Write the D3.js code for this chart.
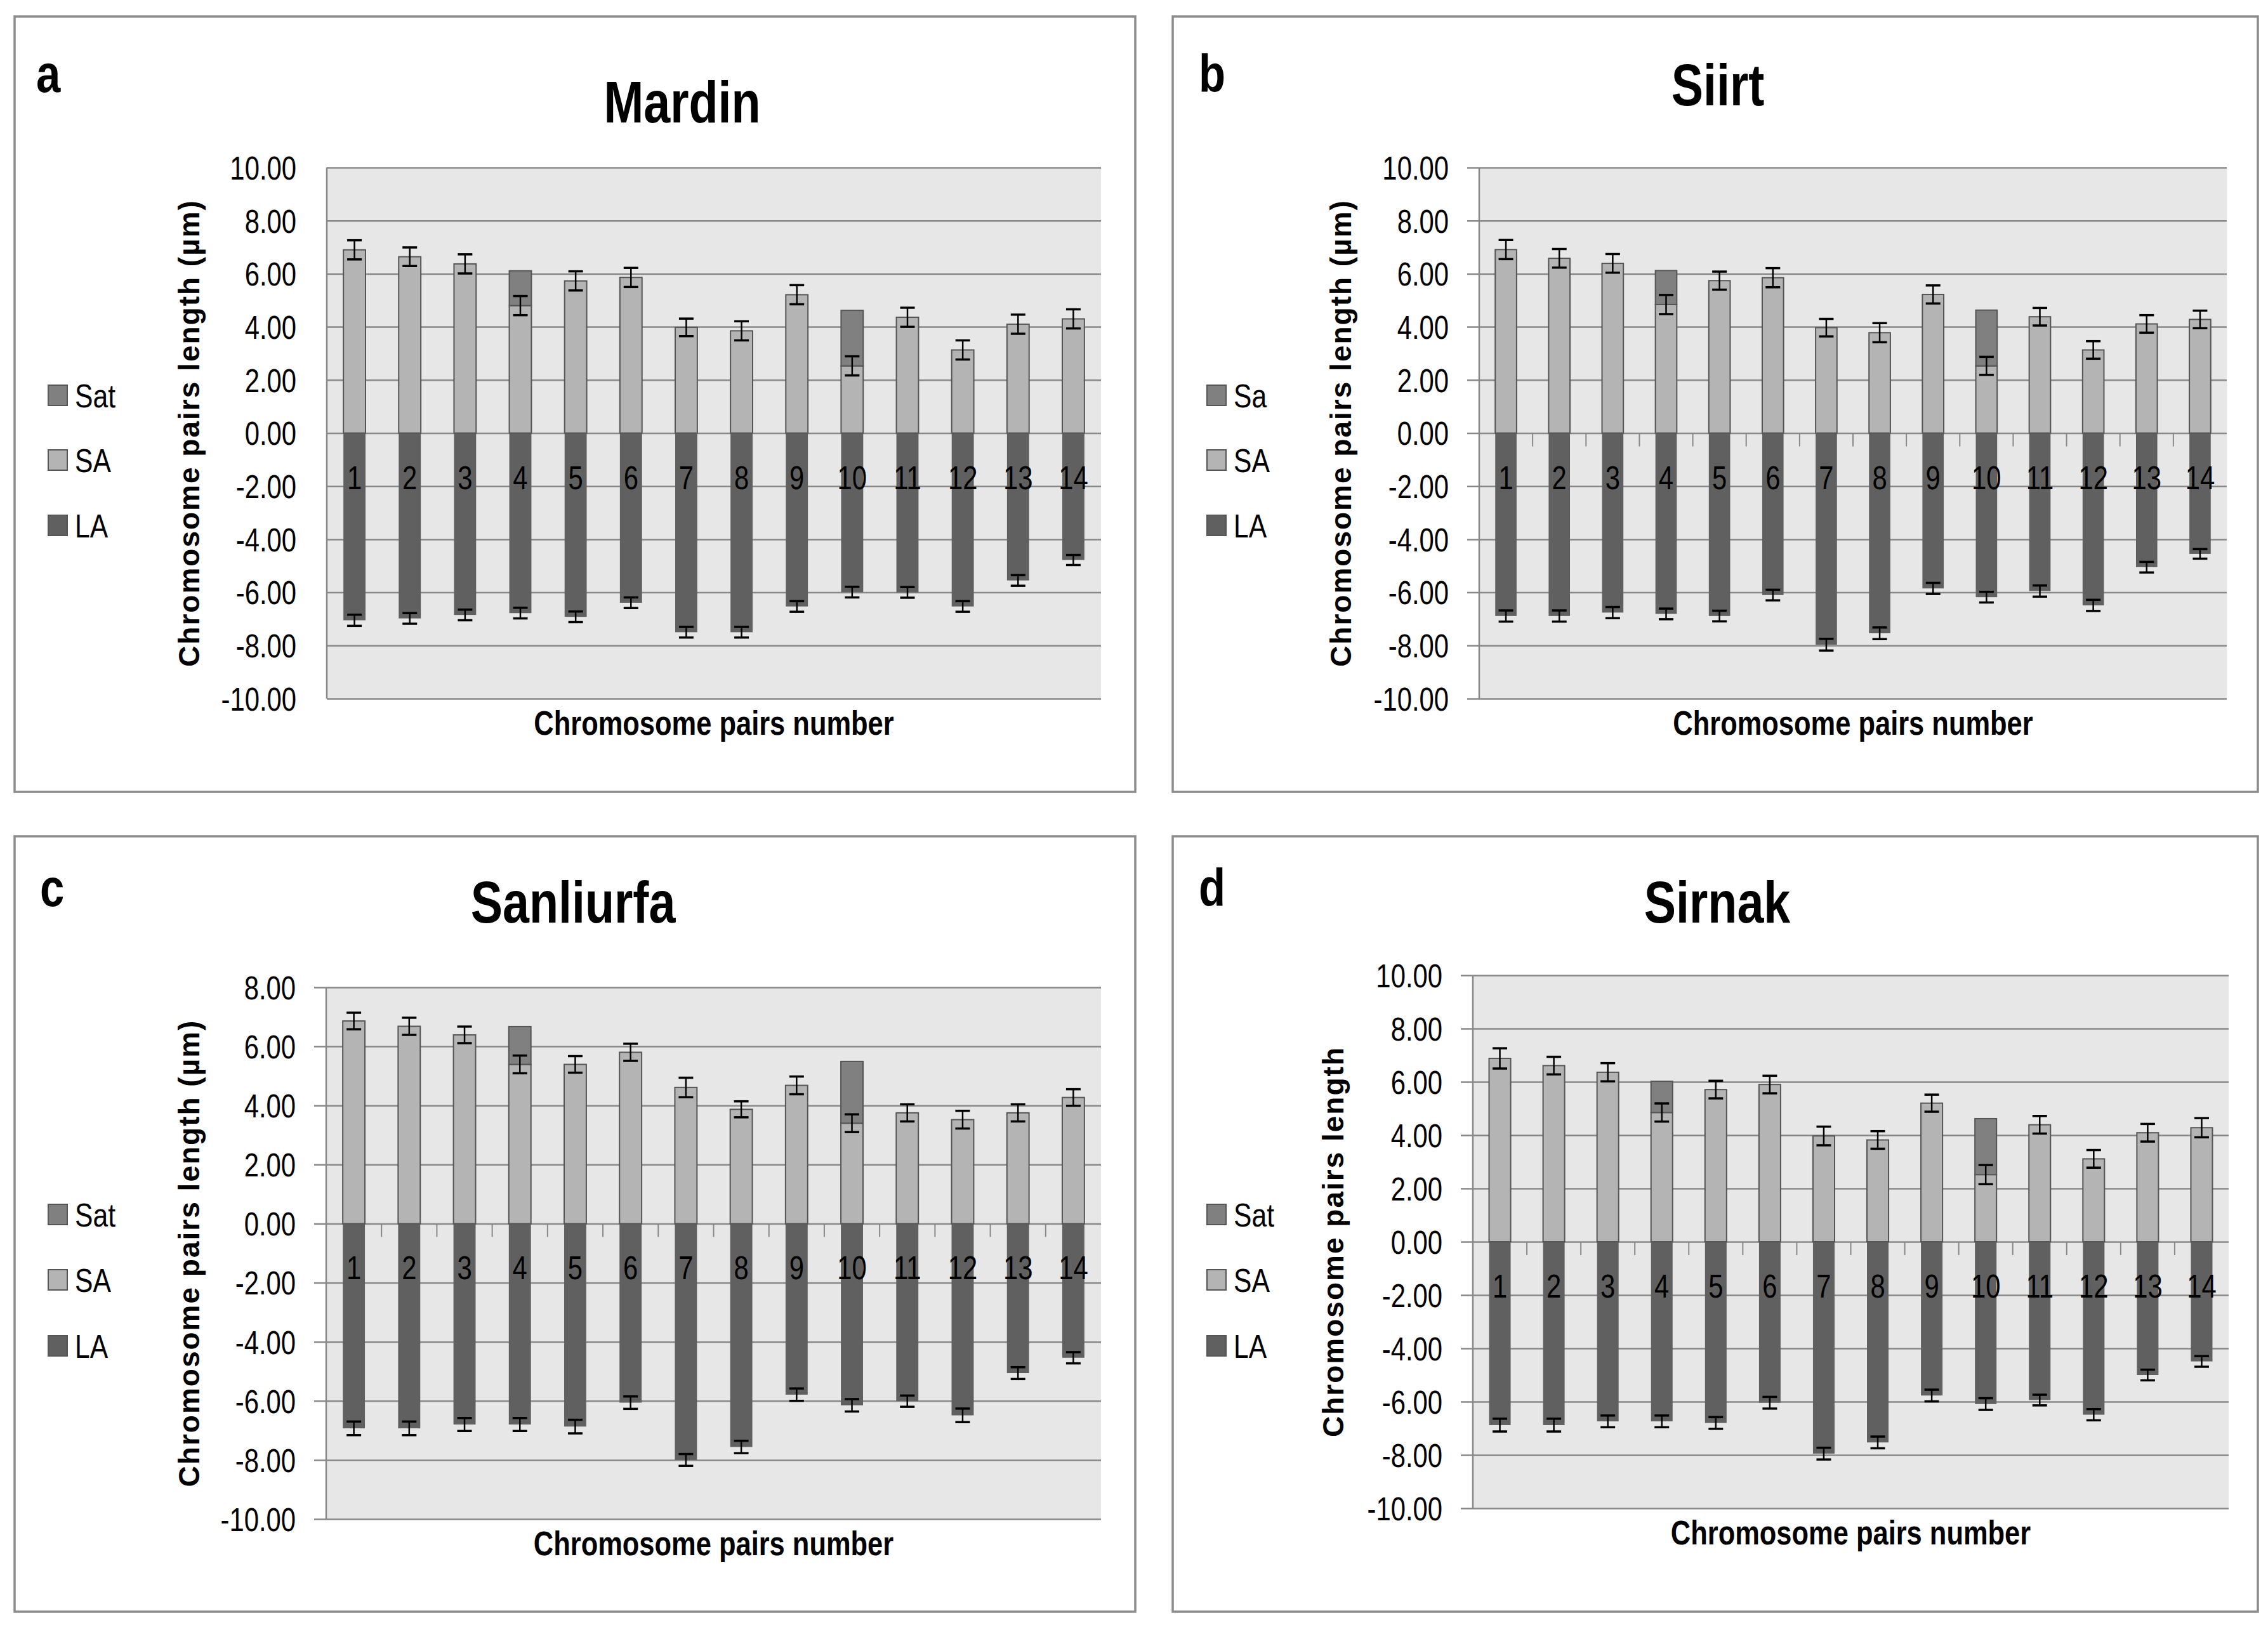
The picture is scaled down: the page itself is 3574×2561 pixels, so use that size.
<!DOCTYPE html>
<html>
<head>
<meta charset="utf-8">
<script src="https://cdn.jsdelivr.net/npm/d3@7"></script>
<style>
body { margin: 0; background: #fff; }
text { font-family: "Liberation Sans", Arial, sans-serif; }
</style>
</head>
<body>
<svg id="fig" width="3574" height="2561"></svg>
<script>
// chromosome pair numbers
var pairs = ["1","2","3","4","5","6","7","8","9","10","11","12","13","14"];

var panelLetters = ["a","b","c","d"];
var panelTitles  = ["Mardin","Siirt","Sanliurfa","Sirnak"];
var legendNames  = [["Sat","SA","LA"],["Sa","SA","LA"],["Sat","SA","LA"],["Sat","SA","LA"]];
var yTitles      = ["Chromosome pairs length (\u00b5m)","Chromosome pairs length (\u00b5m)","Chromosome pairs length (\u00b5m)","Chromosome pairs length"];
var xTitle       = "Chromosome pairs number";

var ticksFull      = [-10,-8,-6,-4,-2,0,2,4,6,8,10];
var ticksSanliurfa = [-10,-8,-6,-4,-2,0,2,4,6,8];

// a - Mardin
var mardinSA    = [6.90,6.64,6.37,4.80,5.73,5.86,3.98,3.85,5.21,2.53,4.36,3.13,4.10,4.30];
var mardinSat   = [0,0,0,1.31,0,0,0,0,0,2.09,0,0,0,0];
var mardinLA    = [-7.05,-6.98,-6.85,-6.78,-6.92,-6.39,-7.50,-7.50,-6.53,-5.99,-6.00,-6.53,-5.55,-4.78];
var mardinSAErr = [0.36,0.35,0.36,0.36,0.36,0.36,0.33,0.36,0.36,0.36,0.36,0.36,0.36,0.36];
var mardinLAErr = [0.21,0.20,0.20,0.20,0.20,0.20,0.20,0.20,0.20,0.20,0.20,0.20,0.20,0.19];

// b - Siirt
var siirtSA    = [6.91,6.58,6.39,4.84,5.74,5.85,3.97,3.78,5.22,2.53,4.38,3.13,4.11,4.28];
var siirtSat   = [0,0,0,1.28,0,0,0,0,0,2.10,0,0,0,0];
var siirtLA    = [-6.89,-6.89,-6.76,-6.81,-6.89,-6.10,-7.97,-7.54,-5.85,-6.18,-5.95,-6.49,-5.05,-4.55];
var siirtSAErr = [0.36,0.35,0.35,0.36,0.34,0.36,0.33,0.36,0.34,0.34,0.33,0.33,0.33,0.33];
var siirtLAErr = [0.21,0.21,0.21,0.20,0.20,0.20,0.22,0.22,0.21,0.20,0.21,0.21,0.20,0.18];

// c - Sanliurfa
var sanliurfaSA    = [6.86,6.68,6.39,5.39,5.39,5.80,4.61,3.87,4.68,3.40,3.75,3.52,3.75,4.27];
var sanliurfaSat   = [0,0,0,1.28,0,0,0,0,0,2.09,0,0,0,0];
var sanliurfaLA    = [-6.93,-6.93,-6.80,-6.80,-6.87,-6.06,-8.00,-7.56,-5.79,-6.15,-6.01,-6.49,-5.06,-4.54];
var sanliurfaSAErr = [0.28,0.29,0.28,0.30,0.28,0.29,0.33,0.27,0.30,0.30,0.29,0.30,0.29,0.28];
var sanliurfaLAErr = [0.23,0.23,0.22,0.22,0.23,0.21,0.20,0.21,0.21,0.21,0.19,0.23,0.20,0.19];

// d - Sirnak
var sirnakSA    = [6.88,6.61,6.36,4.85,5.71,5.90,3.97,3.82,5.20,2.52,4.39,3.11,4.09,4.28];
var sirnakSat   = [0,0,0,1.17,0,0,0,0,0,2.10,0,0,0,0];
var sirnakLA    = [-6.88,-6.88,-6.74,-6.74,-6.80,-6.04,-7.95,-7.53,-5.77,-6.09,-5.94,-6.49,-5.00,-4.49];
var sirnakSAErr = [0.38,0.33,0.34,0.34,0.33,0.33,0.35,0.33,0.32,0.36,0.33,0.33,0.33,0.36];
var sirnakLAErr = [0.24,0.24,0.22,0.22,0.22,0.22,0.22,0.22,0.22,0.22,0.20,0.21,0.20,0.20];

var satColor = '#808080',
    saColor  = '#b4b4b4',
    laColor  = '#606060',
    gridCol  = '#888888',
    plotBg   = '#e7e7e7',
    narrow   = 0.82;   // squeeze Liberation Sans to a narrow face

var panels = [
  { sa: mardinSA, sat: mardinSat, la: mardinLA, saErr: mardinSAErr, laErr: mardinLAErr, ticks: ticksFull,
    box: [23, 26, 1789, 1248], plot: [515, 1735, 264, 1101], titleX: 1075, titleY: 193,
    letterX: 57, letterY: 145, yTitleX: 298, legendX: 76, legendY: [623, 725, 828], outer: false },
  { sa: siirtSA, sat: siirtSat, la: siirtLA, saErr: siirtSAErr, laErr: siirtLAErr, ticks: ticksFull,
    box: [1848, 26, 3558, 1248], plot: [2331, 3509, 264, 1101], titleX: 2707, titleY: 166,
    letterX: 1889, letterY: 145, yTitleX: 2113, legendX: 1902, legendY: [623, 725, 828], outer: true },
  { sa: sanliurfaSA, sat: sanliurfaSat, la: sanliurfaLA, saErr: sanliurfaSAErr, laErr: sanliurfaLAErr, ticks: ticksSanliurfa,
    box: [23, 1318, 1789, 2540], plot: [514, 1735, 1556, 2394], titleX: 903, titleY: 1454,
    letterX: 63, letterY: 1428, yTitleX: 298, legendX: 76, legendY: [1914, 2017, 2121], outer: true },
  { sa: sirnakSA, sat: sirnakSat, la: sirnakLA, saErr: sirnakSAErr, laErr: sirnakLAErr, ticks: ticksFull,
    box: [1848, 1318, 3558, 2540], plot: [2321, 3512, 1537, 2377], titleX: 2706, titleY: 1454,
    letterX: 1889, letterY: 1428, yTitleX: 2101, legendX: 1902, legendY: [1914, 2017, 2121], outer: true }
];

var svg = d3.select('#fig');
svg.append('rect').attr('width', 3574).attr('height', 2561).attr('fill', '#fff');

// text drawn in a horizontally squeezed group
function narrowText(parent, x, y, str, size, bold, anchor){
  return parent.append('g')
    .attr('transform', 'translate(' + x + ',' + y + ') scale(' + narrow + ',1)')
    .append('text')
    .attr('text-anchor', anchor || 'start')
    .attr('font-size', size)
    .attr('font-weight', bold ? 'bold' : 'normal')
    .attr('fill', '#000')
    .text(str);
}

panels.forEach(function(p, k){
  var g = svg.append('g');
  var w = p.plot[1] - p.plot[0],
      h = p.plot[3] - p.plot[2];

  // outer frame
  g.append('rect')
    .attr('x', p.box[0]).attr('y', p.box[1])
    .attr('width', p.box[2] - p.box[0]).attr('height', p.box[3] - p.box[1])
    .attr('fill', 'none').attr('stroke', '#8c8c8c').attr('stroke-width', 3.5);

  narrowText(g, p.letterX, p.letterY, panelLetters[k], 84, true);
  narrowText(g, p.titleX, p.titleY, panelTitles[k], 92, true, 'middle');

  var x = d3.scaleBand().domain(pairs).range([0, w]).paddingInner(0.6).paddingOuter(0.3);
  var band = w / pairs.length;
  var y = d3.scaleLinear().domain([p.ticks[0], p.ticks[p.ticks.length - 1]]).range([h, 0]);

  var plot = g.append('g').attr('transform', 'translate(' + p.plot[0] + ',' + p.plot[2] + ')');

  plot.append('rect').attr('width', w).attr('height', h).attr('fill', plotBg);

  // gridlines + tick labels
  var yAxis = d3.axisLeft(y).tickValues(p.ticks)
    .tickSize(-w).tickPadding(48)
    .tickFormat(function(d){ return d.toFixed(2); });
  var ag = plot.append('g').call(yAxis);
  ag.select('.domain').remove();
  ag.selectAll('.tick line').attr('stroke', gridCol).attr('stroke-width', 2.5)
    .attr('x1', p.outer ? -19 : 0);
  ag.selectAll('.tick text')
    .attr('x', -48 / narrow)
    .attr('transform', 'scale(' + narrow + ',1)')
    .attr('font-size', 51).attr('fill', '#000')
    .attr('font-family', '"Liberation Sans", Arial, sans-serif').attr('dy', '0.36em');

  // value axis line
  plot.append('line').attr('x1', 0).attr('x2', 0).attr('y1', 0).attr('y2', h)
    .attr('stroke', gridCol).attr('stroke-width', 2.5);

  // category ticks on the zero line
  if (p.outer) {
    plot.append('g').selectAll('line').data(pairs.slice(1)).enter().append('line')
      .attr('x1', function(d){ return x(d) - (band - x.bandwidth()) / 2; })
      .attr('x2', function(d){ return x(d) - (band - x.bandwidth()) / 2; })
      .attr('y1', y(0)).attr('y2', y(0) + 21)
      .attr('stroke', gridCol).attr('stroke-width', 2);
  }

  // LA bars
  plot.append('g').selectAll('rect').data(p.la).enter().append('rect')
    .attr('x', function(d, i){ return x(pairs[i]); })
    .attr('width', x.bandwidth())
    .attr('y', y(0))
    .attr('height', function(d){ return y(d) - y(0); })
    .attr('fill', laColor);

  // SA bars
  plot.append('g').selectAll('rect').data(p.sa).enter().append('rect')
    .attr('x', function(d, i){ return x(pairs[i]); })
    .attr('width', x.bandwidth())
    .attr('y', function(d){ return y(d); })
    .attr('height', function(d){ return y(0) - y(d); })
    .attr('fill', saColor).attr('stroke', '#555').attr('stroke-width', 2);

  // Sat segments stacked on SA
  plot.append('g').selectAll('rect').data(p.sat).enter()
    .filter(function(d){ return d > 0; })
    .append('rect')
    .attr('x', function(d){ return x(pairs[p.sat.indexOf(d)]); })
    .attr('width', x.bandwidth())
    .attr('y', function(d){ var i = p.sat.indexOf(d); return y(p.sa[i] + d); })
    .attr('height', function(d){ var i = p.sat.indexOf(d); return y(p.sa[i]) - y(p.sa[i] + d); })
    .attr('fill', satColor).attr('stroke', '#555').attr('stroke-width', 2);

  // error bars
  function errBars(vals, errs){
    var eg = plot.append('g');
    vals.forEach(function(v, i){
      var cx = x(pairs[i]) + x.bandwidth() / 2,
          lo = y(v - errs[i]),
          hi = y(v + errs[i]);
      eg.append('line').attr('x1', cx).attr('x2', cx).attr('y1', hi).attr('y2', lo)
        .attr('stroke', '#000').attr('stroke-width', 2.5);
      [hi, lo].forEach(function(yy){
        eg.append('line').attr('x1', cx - 11.5).attr('x2', cx + 11.5).attr('y1', yy).attr('y2', yy)
          .attr('stroke', '#000').attr('stroke-width', 3.5);
      });
    });
  }
  errBars(p.sa, p.saErr);
  errBars(p.la, p.laErr);

  // category labels
  pairs.forEach(function(d){
    narrowText(plot, x(d) + x.bandwidth() / 2, y(0) + 88, d, 51, false, 'middle');
  });

  // axis titles
  g.append('text')
    .attr('transform', 'translate(' + p.yTitleX + ',' + (p.plot[2] + h / 2) + ') rotate(-90)')
    .attr('text-anchor', 'middle').attr('dy', '0.35em')
    .attr('font-family', '"DejaVu Sans", Verdana, sans-serif')
    .attr('font-size', 46).attr('font-weight', 'bold')
    .attr('letter-spacing', 2)
    .text(yTitles[k]);

  narrowText(g, p.plot[0] + w / 2, p.plot[3] + 57, xTitle, 53, true, 'middle');

  // legend
  var colors = [satColor, saColor, laColor];
  legendNames[k].forEach(function(name, j){
    g.append('rect').attr('x', p.legendX).attr('y', p.legendY[j] - 16)
      .attr('width', 30).attr('height', 32)
      .attr('fill', colors[j]).attr('stroke', '#555').attr('stroke-width', 2);
    narrowText(g, p.legendX + 42, p.legendY[j] + 19, name, 52, false);
  });
});
</script>
</body>
</html>
